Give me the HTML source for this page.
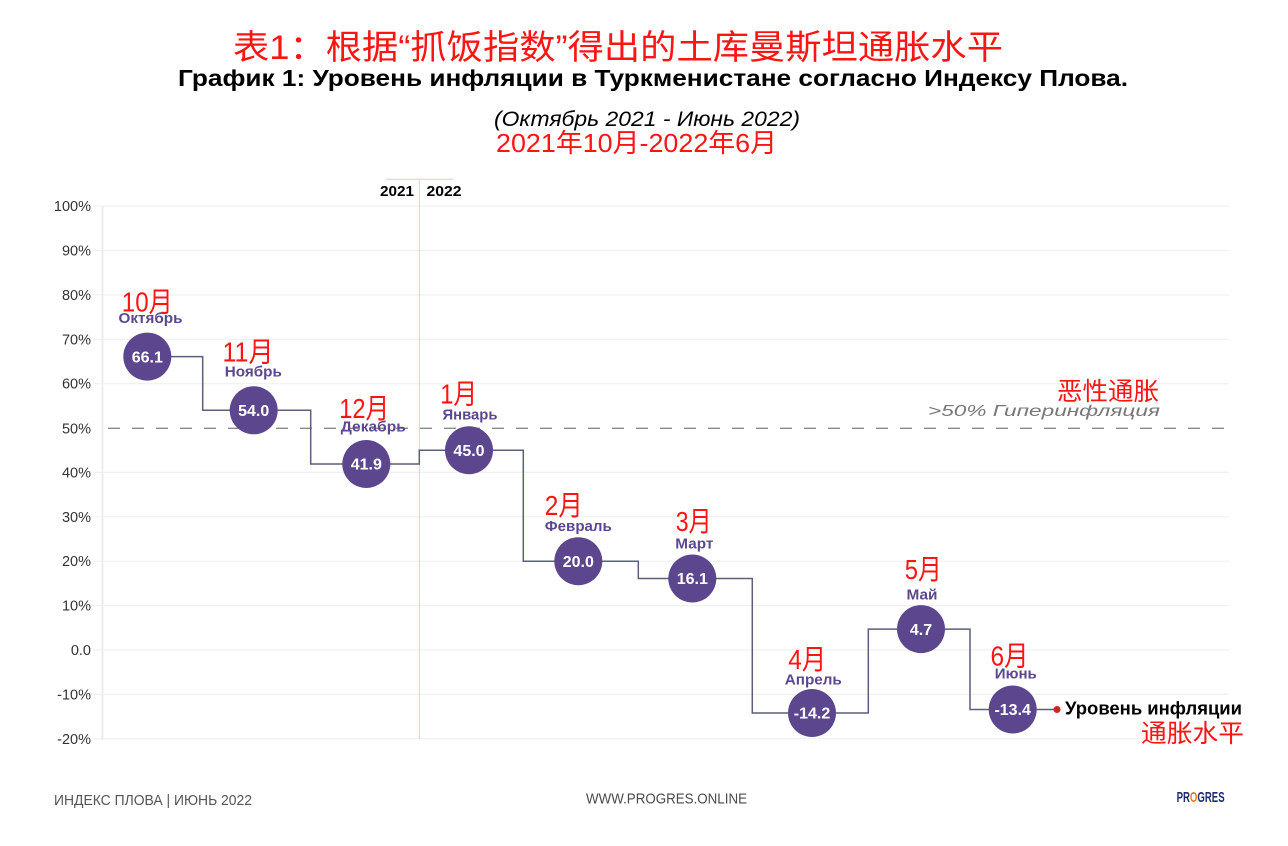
<!DOCTYPE html>
<html><head><meta charset="utf-8"><style>
html,body{margin:0;padding:0;background:#fff;}
svg{display:block;}
text{font-family:"Liberation Sans","Noto Sans CJK SC",sans-serif;}
.cn{font-family:"Liberation Sans","Noto Sans CJK SC",sans-serif;fill:#ff1414;}
.yl{font-size:14.5px;fill:#333;text-anchor:end;}
.mo{font-size:14.5px;font-weight:bold;fill:#5c478f;text-anchor:middle;}
.val{font-size:16px;font-weight:bold;fill:#fff;text-anchor:middle;}
.rm{font-size:28px;text-anchor:middle;}
</style></head><body>
<svg width="1288" height="846" viewBox="0 0 1288 846" xmlns="http://www.w3.org/2000/svg">
<rect width="1288" height="846" fill="#fff"/>
<!-- Titles -->
<text class="cn" x="233" y="59" font-size="34" textLength="770" lengthAdjust="spacingAndGlyphs">表1：根据“抓饭指数”得出的土库曼斯坦通胀水平</text>
<text x="178" y="86" font-size="23" font-weight="bold" fill="#000" textLength="950" lengthAdjust="spacingAndGlyphs">График 1: Уровень инфляции в Туркменистане согласно Индексу Плова.</text>
<text x="494" y="126" font-size="21" font-style="italic" fill="#000" textLength="306" lengthAdjust="spacingAndGlyphs">(Октябрь 2021 - Июнь 2022)</text>
<text class="cn" x="496" y="152" font-size="26" textLength="281" lengthAdjust="spacingAndGlyphs">2021年10月-2022年6月</text>

<!-- gridlines -->
<g stroke="#f0f0f0" stroke-width="1.2">
<line x1="93" y1="206.1" x2="1229" y2="206.1"/>
<line x1="93" y1="250.5" x2="1229" y2="250.5"/>
<line x1="93" y1="294.9" x2="1229" y2="294.9"/>
<line x1="93" y1="339.3" x2="1229" y2="339.3"/>
<line x1="93" y1="383.7" x2="1229" y2="383.7"/>
<line x1="93" y1="472.4" x2="1229" y2="472.4"/>
<line x1="93" y1="516.8" x2="1229" y2="516.8"/>
<line x1="93" y1="561.2" x2="1229" y2="561.2"/>
<line x1="93" y1="605.6" x2="1229" y2="605.6"/>
<line x1="93" y1="650" x2="1229" y2="650"/>
<line x1="93" y1="694.4" x2="1229" y2="694.4"/>
<line x1="93" y1="738.8" x2="1229" y2="738.8"/>
</g>
<line x1="102.5" y1="206" x2="102.5" y2="740" stroke="#ececec" stroke-width="2"/>
<!-- y labels -->
<g class="yl">
<text x="91" y="211">100%</text>
<text x="91" y="255.5">90%</text>
<text x="91" y="300">80%</text>
<text x="91" y="344.3">70%</text>
<text x="91" y="388.7">60%</text>
<text x="91" y="433.3">50%</text>
<text x="91" y="477.4">40%</text>
<text x="91" y="521.8">30%</text>
<text x="91" y="566.2">20%</text>
<text x="91" y="610.6">10%</text>
<text x="91" y="655">0.0</text>
<text x="91" y="699.4">-10%</text>
<text x="91" y="743.8">-20%</text>
</g>

<!-- year separator -->
<line x1="386" y1="179.3" x2="453" y2="179.3" stroke="#f5c4c4" stroke-width="1"/>
<line x1="419.3" y1="179" x2="419.3" y2="739" stroke="#f3c6c6" stroke-width="1"/>
<text x="380" y="196" font-size="14.5" font-weight="bold" fill="#000" textLength="34" lengthAdjust="spacingAndGlyphs">2021</text>
<text x="426.5" y="196" font-size="14.5" font-weight="bold" fill="#000" textLength="35" lengthAdjust="spacingAndGlyphs">2022</text>

<!-- dashed hyperinflation line -->
<line x1="108" y1="428.3" x2="1229" y2="428.3" stroke="#8a8a8a" stroke-width="1.3" stroke-dasharray="12 12"/>
<text x="928" y="416" font-size="16" font-style="italic" fill="#777" textLength="232" lengthAdjust="spacingAndGlyphs">&gt;50% Гиперинфляция</text>
<text class="cn" x="1057" y="400" font-size="25" textLength="102" lengthAdjust="spacingAndGlyphs">恶性通胀</text>

<!-- step line -->
<path d="M147,356.6 H202.7 V410.3 H310.7 V464.0 H419.3 V450.2 H523.3 V561.2 H638.3 V578.5 H752.3 V713.0 H868.3 V629.1 H970 V709.5 H1057" fill="none" stroke="#5a5f7a" stroke-width="1.5"/>
<circle cx="1057" cy="709.5" r="3.5" fill="#c8281e"/>

<!-- circles -->
<g fill="#5c478f">
<circle cx="147.3" cy="356.6" r="24"/>
<circle cx="253.7" cy="410.3" r="24"/>
<circle cx="366.3" cy="464.0" r="24"/>
<circle cx="469" cy="450.2" r="24"/>
<circle cx="578.3" cy="561.2" r="24"/>
<circle cx="692.3" cy="578.5" r="24"/>
<circle cx="812" cy="713.0" r="24"/>
<circle cx="921" cy="629.1" r="24"/>
<circle cx="1012.7" cy="709.5" r="24"/>
</g>
<g class="val">
<text x="147.3" y="362.3">66.1</text>
<text x="253.7" y="416">54.0</text>
<text x="366.3" y="469.7">41.9</text>
<text x="469" y="455.9">45.0</text>
<text x="578.3" y="566.9">20.0</text>
<text x="692.3" y="584.2">16.1</text>
<text x="812" y="718.7">-14.2</text>
<text x="921" y="634.8">4.7</text>
<text x="1012.7" y="715.2">-13.4</text>
</g>

<!-- month labels -->
<g class="mo">
<text x="150.5" y="323" textLength="64" lengthAdjust="spacingAndGlyphs">Октябрь</text>
<text x="253.3" y="376.5" textLength="57" lengthAdjust="spacingAndGlyphs">Ноябрь</text>
<text x="373.3" y="431.5" textLength="65" lengthAdjust="spacingAndGlyphs">Декабрь</text>
<text x="470" y="419.3" textLength="55" lengthAdjust="spacingAndGlyphs">Январь</text>
<text x="578.3" y="531" textLength="67" lengthAdjust="spacingAndGlyphs">Февраль</text>
<text x="694.3" y="548.3" textLength="38" lengthAdjust="spacingAndGlyphs">Март</text>
<text x="813.3" y="684.3" textLength="57" lengthAdjust="spacingAndGlyphs">Апрель</text>
<text x="922" y="599.3" textLength="31" lengthAdjust="spacingAndGlyphs">Май</text>
<text x="1015.8" y="678.3" textLength="42" lengthAdjust="spacingAndGlyphs">Июнь</text>
</g>

<!-- red month labels -->
<g class="cn rm">
<text x="147.3" y="311.5" textLength="51" lengthAdjust="spacingAndGlyphs">10月</text>
<text x="248" y="361.5" textLength="51" lengthAdjust="spacingAndGlyphs">11月</text>
<text x="364.2" y="418" textLength="50" lengthAdjust="spacingAndGlyphs">12月</text>
<text x="458.7" y="403.5" textLength="37" lengthAdjust="spacingAndGlyphs">1月</text>
<text x="563.8" y="515" textLength="38" lengthAdjust="spacingAndGlyphs">2月</text>
<text x="693.7" y="531" textLength="36" lengthAdjust="spacingAndGlyphs">3月</text>
<text x="807.2" y="669" textLength="38" lengthAdjust="spacingAndGlyphs">4月</text>
<text x="923.3" y="579" textLength="37" lengthAdjust="spacingAndGlyphs">5月</text>
<text x="1009.5" y="665.5" textLength="38" lengthAdjust="spacingAndGlyphs">6月</text>
</g>

<!-- legend -->
<text x="1065" y="714.5" font-size="18" font-weight="bold" fill="#000" textLength="177" lengthAdjust="spacingAndGlyphs">Уровень инфляции</text>
<text class="cn" x="1141" y="742" font-size="25" textLength="103" lengthAdjust="spacingAndGlyphs">通胀水平</text>

<!-- footer -->
<text x="54" y="805" font-size="15" fill="#555" textLength="198" lengthAdjust="spacingAndGlyphs">ИНДЕКС ПЛОВА | ИЮНЬ 2022</text>
<text x="586" y="803.5" font-size="15" fill="#4a4a4a" textLength="161" lengthAdjust="spacingAndGlyphs">WWW.PROGRES.ONLINE</text>
<text x="1176.6" y="802" font-size="15" font-weight="bold" fill="#1f2d6e" textLength="48" lengthAdjust="spacingAndGlyphs">PR<tspan fill="#f07a1a">O</tspan>GRES</text>
</svg>
</body></html>
